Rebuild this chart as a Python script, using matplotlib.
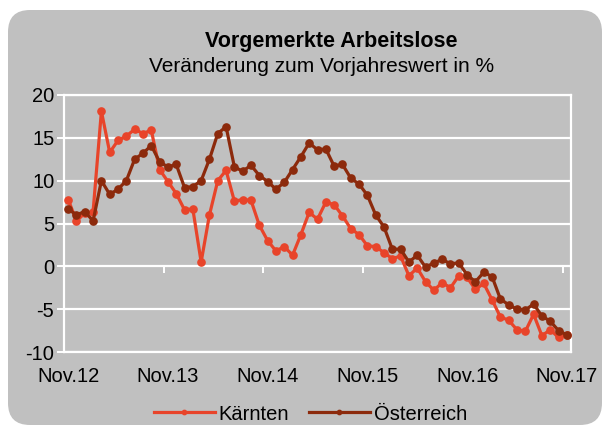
import matplotlib
matplotlib.use("Agg")
import matplotlib.pyplot as plt
from matplotlib.patches import FancyBboxPatch
import numpy as np

plt.rcParams['font.family'] = ['Liberation Sans', 'DejaVu Sans']
plt.rcParams['axes.unicode_minus'] = False

title = "Vorgemerkte Arbeitslose"
subtitle = "Veränderung zum Vorjahreswert in %"
tick_labels = ["Nov.12", "Nov.13", "Nov.14", "Nov.15", "Nov.16", "Nov.17"]

kaernten = [7.8, 5.3, 6.2, 6.4, 18.1, 13.3, 14.7, 15.2, 16.0, 15.5, 15.9,
            11.3, 9.9, 8.5, 6.6, 6.7, 0.5, 6.0, 10.0, 11.2, 7.6, 7.8, 7.7,
            4.8, 3.0, 1.8, 2.3, 1.3, 3.7, 6.3, 5.5, 7.5, 7.2, 5.9, 4.4, 3.7,
            2.4, 2.3, 1.6, 0.9, 1.2, -1.1, -0.2, -1.8, -2.8, -1.9, -2.5, -1.1,
            -1.3, -2.7, -2.0, -3.9, -5.9, -6.3, -7.4, -7.6, -5.6, -8.1, -7.4,
            -8.3, -8.0]
oesterreich = [6.7, 6.0, 6.4, 5.3, 10.0, 8.4, 9.0, 10.0, 12.5, 13.2, 14.1,
               12.2, 11.6, 11.9, 9.2, 9.3, 10.0, 12.5, 15.5, 16.3, 11.6, 11.1,
               11.8, 10.6, 9.9, 9.0, 9.8, 11.3, 12.8, 14.4, 13.6, 13.7, 11.7,
               11.9, 10.3, 9.6, 8.3, 6.0, 4.6, 2.0, 2.0, 0.5, 1.3, -0.1, 0.4,
               0.8, 0.3, 0.4, -1.0, -1.8, -0.7, -1.2, -3.8, -4.5, -5.0, -5.1,
               -4.4, -5.8, -6.4, -7.5, -8.0]

c_k = "#e8442a"
c_o = "#8c2a0c"
bg = "#c0c0c0"

fig = plt.figure(figsize=(6.03, 4.30), dpi=100)
fig.patch.set_facecolor("white")
box = FancyBboxPatch((0.08, 0.05), 5.94, 4.15,
                     boxstyle="round,pad=0,rounding_size=0.22",
                     transform=fig.dpi_scale_trans, facecolor=bg,
                     edgecolor="none", zorder=-10)
fig.patches.append(box)

ax = fig.add_axes([64/603, 1-352/430, (571-64)/603, (352-95)/430])
ax.set_facecolor(bg)
x = np.arange(len(kaernten))
ax.plot(x, kaernten, color=c_k, lw=2.3, marker="o", ms=5.2, label="Kärnten", zorder=3)
ax.plot(x, oesterreich, color=c_o, lw=2.3, marker="o", ms=5.2, label="Österreich", zorder=4)

ax.set_xlim(-0.5, len(kaernten) - 0.5)
ax.set_ylim(-10, 20)
ax.set_yticks(np.arange(-10, 21, 5))
ax.grid(axis="y", color="white", lw=1.6, zorder=1)
ax.set_axisbelow(True)
for s in ax.spines.values():
    s.set_color("white")
    s.set_linewidth(1.6)
ax.tick_params(axis="y", colors="white", length=5, width=1.4, labelcolor="black",
               labelsize=14.5, pad=2)
ax.set_xticks(x[::12])
ax.set_xticklabels(tick_labels)
ax.tick_params(axis="x", length=0, labelsize=14.5, pad=11)

sec = ax.secondary_xaxis(1/3)
sec.set_xticks(np.arange(-0.5, len(kaernten), 12))
sec.tick_params(axis="x", colors="white", length=5, width=1.4, labelbottom=False)
for s in sec.spines.values():
    s.set_visible(False)

fig.text(331/603, 1-41/430, title, ha="center", va="center", fontsize=15.5, fontweight="bold")
fig.text(322/603, 1-66/430, subtitle, ha="center", va="center", fontsize=15)

fig.legend(loc="center", bbox_to_anchor=(0.515, 1-414/430), ncol=2, frameon=False,
           fontsize=14.5, handlelength=3.0, numpoints=1, markerscale=0.6,
           columnspacing=1.0, handletextpad=0.2)

fig.savefig("out.png", dpi=100, facecolor="white")
